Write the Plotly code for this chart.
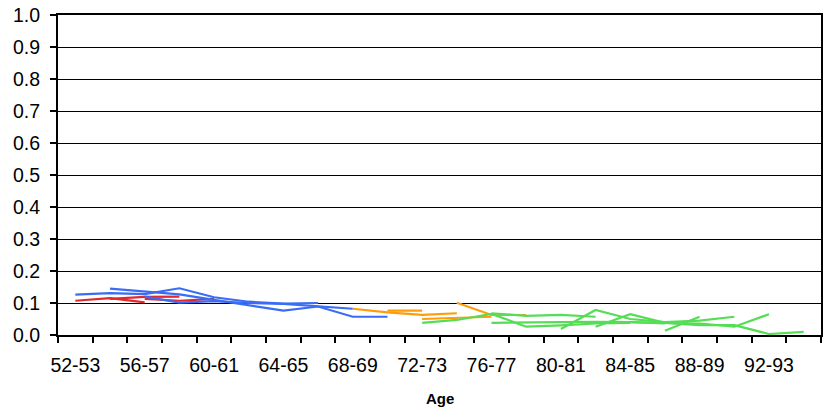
import plotly.graph_objects as go

ages = ["52-53", "54-55", "56-57", "58-59", "60-61", "62-63",
        "64-65", "66-67", "68-69", "70-71", "72-73", "74-75", "76-77", "78-79",
        "80-81", "82-83", "84-85", "86-87", "88-89", "90-91", "92-93", "94-95"]

# series: (start category index, values)
red_series = [
    (0, [0.107, 0.115, 0.102]),
    (1, [0.113, 0.119, 0.120]),
    (2, [0.113, 0.107, 0.113]),
]
blue_series = [
    (0, [0.126, 0.131, 0.128, 0.146, 0.118, 0.104, 0.098, 0.100]),
    (1, [0.145, 0.136, 0.127, 0.110, 0.094, 0.076, 0.089, 0.057, 0.057]),
    (2, [0.120, 0.101, 0.106, 0.100, 0.097, 0.089, 0.082]),
]
orange_series = [
    (8, [0.082, 0.071, 0.063, 0.068]),
    (9, [0.076, 0.076]),
    (10, [0.050, 0.053, 0.057]),
    (11, [0.101, 0.0625, 0.0625]),
]
green_series = [
    (10, [0.038, 0.047, 0.066, 0.026, 0.030, 0.036, 0.038]),
    (12, [0.038, 0.038, 0.040, 0.041, 0.040, 0.036]),
    (12, [0.068, 0.060, 0.063, 0.057]),
    (14, [0.019, 0.078, 0.050, 0.040, 0.045, 0.057]),
    (15, [0.026, 0.065, 0.038, 0.036, 0.026, 0.065]),
    (17, [0.013, 0.057]),
    (16, [0.040, 0.038, 0.031, 0.031, 0.003, 0.010]),
]

tick_labels = [a if i % 2 == 0 else "" for i, a in enumerate(ages)]

colors = {"red": "#E2282F", "blue": "#3A6CF5", "orange": "#FF9C0A", "green": "#56DD56"}

fig = go.Figure()
for cname, group in [("red", red_series), ("blue", blue_series),
                     ("orange", orange_series), ("green", green_series)]:
    for start, vals in group:
        fig.add_trace(go.Scatter(
            x=ages[start:start + len(vals)], y=vals, mode="lines",
            line=dict(color=colors[cname], width=2.2), showlegend=False,
            hoverinfo="skip"))

font = "Liberation Sans, Arial, sans-serif"
fig.update_layout(
    width=824, height=417,
    margin=dict(l=58, r=3, t=15, b=82),
    paper_bgcolor="white", plot_bgcolor="white",
    font=dict(family=font, size=19.5, color="black"),
)
fig.update_xaxes(
    type="category", categoryorder="array", categoryarray=ages,
    range=[-0.5, len(ages) - 0.5],
    tickmode="array", tickvals=ages, ticktext=tick_labels, tickangle=0,
    tickson="boundaries", ticks="outside", ticklen=6, tickwidth=2, tickcolor="black",
    showgrid=False, showline=True, linecolor="black", linewidth=2, mirror=True,
    automargin=False, tickfont=dict(size=19.5), ticklabelstandoff=12,
    ticklabeloverflow="allow",
)
fig.update_yaxes(
    range=[0, 1.0], dtick=0.1, tickformat=".1f",
    ticks="outside", ticklen=6, tickwidth=2, tickcolor="black",
    showgrid=True, gridcolor="black", gridwidth=1,
    showline=True, linecolor="black", linewidth=2, mirror=True,
    zeroline=False, automargin=False, tickfont=dict(size=19.5),
    ticklabelstandoff=6, ticklabeloverflow="allow",
)
fig.add_annotation(text="<b>Age</b>", x=0.5, y=-0.198, xref="paper", yref="paper",
                   showarrow=False, yanchor="middle", xanchor="center",
                   font=dict(size=15, family=font, color="black"))

fig.write_html("out.html", config={"displayModeBar": False},
               post_script="document.body.style.margin='0';document.body.style.overflow='hidden';")
